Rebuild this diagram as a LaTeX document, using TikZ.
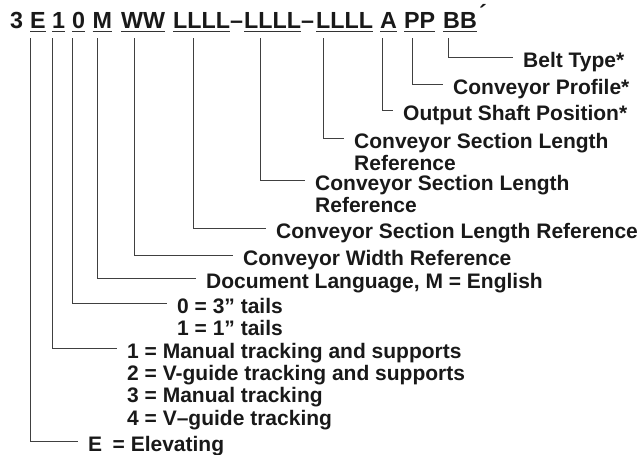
\documentclass[tikz,border=0pt]{standalone}
\usepackage{fontspec}
\setmainfont{Liberation Sans}
\usetikzlibrary{positioning}

\begin{document}
\begin{tikzpicture}[x=1pt,y=-1pt,node distance=2pt,
  code/.style={anchor=base west,inner sep=0pt,text height=17pt,text depth=3.5pt,
               text=black!90,font=\fontsize{23.3}{23.3}\selectfont\bfseries},
  lab/.style={anchor=base west,inner xsep=10pt,inner ysep=0pt,text height=20pt,
              text depth=0pt,text=black!90,font=\fontsize{21}{21}\selectfont\bfseries},
  uline/.style={line width=1.2pt,black!80},
  conn/.style={line width=0.8pt,black!75,shorten <=6.5pt}]
  \useasboundingbox (0,0) rectangle (643,455);

  % model code
  \node[code] (c3)  at (10,28)  {3};
  \node[code] (cE)  at (30,28)  {E};
  \node[code] (c1)  at (52,28)  {1};
  \node[code] (c0)  at (72,28)  {0};
  \node[code] (cM)  at (92.5,28) {M};
  \node[code] (cW)  at (121,28) {WW};
  \node[code] (cLa) at (173,28) {LLLL};
  \node[code] (d1)  at (230,28) {–};
  \node[code] (cLb) at (244,28) {LLLL};
  \node[code] (d2)  at (301,28) {–};
  \node[code] (cLc) at (316,28) {LLLL};
  \node[code] (cA)  at (380,28) {A};
  \node[code] (cP)  at (404,28) {PP};
  \node[code] (cB)  at (443,28) {BB};
  \node[code] (tick) at (479,21.5) {´};
  \foreach \c in {cE,c1,c0,cM,cW,cLa,cLb,cLc,cA,cP,cB}
    \draw[uline] (\c.south west) -- (\c.south east);

  % labels
  \node[lab] (lB)  at (513,67)  {Belt Type*};
  \node[lab] (lP)  at (443,94)  {Conveyor Profile*};
  \node[lab] (lA)  at (393,120) {Output Shaft Position*};
  \node[lab] (lLc) at (344,148) {Conveyor Section Length};
  \node[lab,below=of lLc.south west,anchor=north west] (lLc2) {Reference};
  \node[lab] (lLb) at (305,190) {Conveyor Section Length};
  \node[lab,below=of lLb.south west,anchor=north west] (lLb2) {Reference};
  \node[lab] (lLa) at (266,238) {Conveyor Section Length Reference};
  \node[lab] (lW)  at (233,265) {Conveyor Width Reference};
  \node[lab] (lM)  at (196,288) {Document Language, M = English};
  \node[lab] (l0)  at (167,313) {0 = 3” tails};
  \node[lab,below=of l0.south west,anchor=north west] (l0b) {1 = 1” tails};
  \node[lab] (l1)  at (117,358) {1 = Manual tracking and supports};
  \node[lab,below=of l1.south west,anchor=north west] (l1b) {2 = V-guide tracking and supports};
  \node[lab,below=of l1b.south west,anchor=north west] (l1c) {3 = Manual tracking};
  \node[lab,below=of l1c.south west,anchor=north west] (l1d) {4 = V–guide tracking};
  \node[lab] (lE)  at (78,451)  {E\enspace= Elevating};

  % connectors
  \foreach \c/\l/\dx in {cE/lE/0,c1/l1/0,c0/l0/0,cM/lM/4.5,cW/lW/13,cLa/lLa/20,
                         cLb/lLb/16,cLc/lLc/7,cA/lA/2,cP/lP/8,cB/lB/5}
    \draw[conn] ([xshift=\dx pt]\c.south west) |- (\l.west);
\end{tikzpicture}
\end{document}
